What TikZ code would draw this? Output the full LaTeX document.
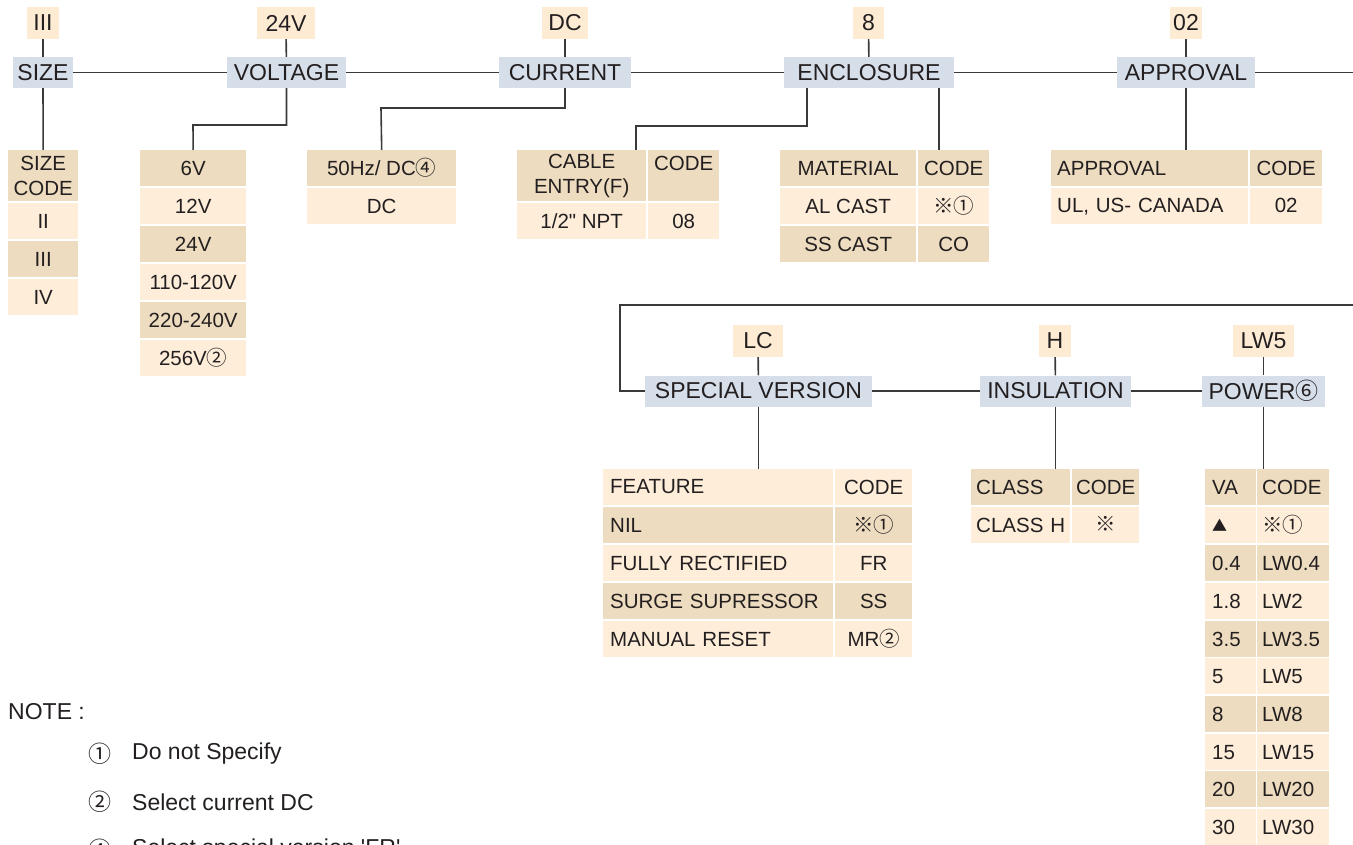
\documentclass[tikz,border=0pt]{standalone}
\usepackage{fontspec}
\setmainfont{Liberation Sans}
\newfontfamily\nolig{Liberation Sans}
\newfontfamily\cjk{Noto Sans CJK SC}
\definecolor{hdr}{HTML}{D6DEEA}
\definecolor{val}{HTML}{FDEBD4}
\definecolor{cdk}{HTML}{EDDCBF}
\definecolor{clt}{HTML}{FDEDD9}
\definecolor{ln}{HTML}{3A3A3A}
\definecolor{txt}{HTML}{231F20}
\newcommand\sy[1]{{\cjk #1}}
\newcommand\hf{\fontsize{23}{27}\selectfont}
\newcommand\tf{\fontsize{20.5}{25}\selectfont}
\newcommand\nf{\fontsize{23}{27}\selectfont}
\newcommand\cc[7]{\node[cell,#6,minimum width=#4pt,minimum height=#5pt] (#1) at (#2,#3) {#7};}
\newcommand\cl[8]{\pgfmathsetmacro\tw{#4-2*#8}\node[cell,#6,minimum width=#4pt,minimum height=#5pt,inner xsep=#8pt,text width=\tw pt,align=left] (#1) at (#2,#3) {#7};}
\begin{document}
\begin{tikzpicture}[x=1pt,y=-1pt,
  hdrbox/.style={fill=hdr,inner sep=0,minimum height=31pt,font=\hf,text=txt},
  valbox/.style={fill=val,inner sep=0,minimum height=32pt,font=\hf,text=txt},
  cell/.style={inner sep=0,anchor=north west,font=\tf,text=txt,align=center},
  dk/.style={fill=cdk},
  lt/.style={fill=clt},
  conn/.style={draw=ln,line width=1.6pt},
  notetext/.style={anchor=west,font=\nf,text=txt,inner sep=0}]
\useasboundingbox (0,0) rectangle (1353,845);
\clip (0,0) rectangle (1353,845);
\fill[white] (0,0) rectangle (1353,845);

% ---------- top row: selected values and headers
\node[valbox,minimum width=32pt] (vsize) at (43,23) {III};
\node[valbox,minimum width=58pt] (vvolt) at (286,23) {24V};
\node[valbox,minimum width=46pt] (vcur) at (565,23) {DC};
\node[valbox,minimum width=31pt] (venc) at (868.5,23) {8};
\node[valbox,minimum width=32pt] (vapp) at (1186,23) {02};

\node[hdrbox,minimum width=60pt] (hsize) at (43,72.5) {SIZE};
\node[hdrbox,minimum width=119pt] (hvolt) at (286.5,72.5) {VOLTAGE};
\node[hdrbox,minimum width=132pt] (hcur) at (565,72.5) {CURRENT};
\node[hdrbox,minimum width=170pt] (henc) at (869,72.5) {ENCLOSURE};
\node[hdrbox,minimum width=138pt] (happ) at (1186,72.5) {APPROVAL};

% ---------- second row
\node[valbox,minimum width=50pt] (vsv) at (758,341) {LC};
\node[valbox,minimum width=32pt] (vins) at (1055,341) {H};
\node[valbox,minimum width=61pt] (vpow) at (1263.5,341) {LW5};

\node[hdrbox,minimum width=227pt] (hsv) at (758.5,391) {SPECIAL VERSION};
\node[hdrbox,minimum width=151pt] (hins) at (1055.5,391) {INSULATION};
\node[hdrbox,minimum width=123pt] (hpow) at (1263.5,391) {POWER\sy{⑥}};

% ---------- SIZE table
\cc{s0}{8}{150}{70}{51}{dk}{SIZE\\CODE}
\cc{s1}{8}{203}{70}{36}{lt}{II}
\cc{s2}{8}{241}{70}{36}{dk}{III}
\cc{s3}{8}{279}{70}{36}{lt}{IV}

% ---------- VOLTAGE table
\cc{t0}{140}{150}{106}{36}{dk}{6V}
\cc{t1}{140}{188}{106}{36}{lt}{12V}
\cc{t2}{140}{226}{106}{36}{dk}{24V}
\cc{t3}{140}{264}{106}{36}{lt}{110-120V}
\cc{t4}{140}{302}{106}{36}{dk}{220-240V}
\cc{t5}{140}{340}{106}{36}{lt}{256V\sy{②}}

% ---------- CURRENT table
\cc{c0}{307}{150}{149}{36}{dk}{50Hz/ DC\sy{④}}
\cc{c1}{307}{188}{149}{36}{lt}{DC}

% ---------- CABLE ENTRY table
\cc{e0a}{517}{150}{129}{51}{dk}{CABLE\\ENTRY(F)}
\cc{e0b}{648}{150}{71}{51}{dk}{CODE\\\phantom{X}}
\cc{e1a}{517}{203}{129}{36}{lt}{1/2{\nolig "} NPT}
\cc{e1b}{648}{203}{71}{36}{lt}{08}

% ---------- MATERIAL table
\cc{m0a}{780}{150}{136}{36}{dk}{MATERIAL}
\cc{m0b}{918}{150}{71}{36}{dk}{CODE}
\cc{m1a}{780}{188}{136}{36}{lt}{AL CAST}
\cc{m1b}{918}{188}{71}{36}{lt}{\sy{※①}}
\cc{m2a}{780}{226}{136}{36}{dk}{SS CAST}
\cc{m2b}{918}{226}{71}{36}{dk}{\raisebox{-3pt}{CO}}

% ---------- APPROVAL table
\cl{a0a}{1051}{150}{197}{36}{dk}{APPROVAL}{6}
\cc{a0b}{1250}{150}{72}{36}{dk}{CODE}
\cl{a1a}{1051}{188}{197}{36}{lt}{UL, US- CANADA}{6}
\cc{a1b}{1250}{188}{72}{36}{lt}{\raisebox{2pt}{02}}

% ---------- FEATURE table
\cl{f0a}{603}{469}{230}{36}{lt}{\raisebox{2pt}{FEATURE}}{7}
\cc{f0b}{835}{469}{77}{36}{lt}{CODE}
\cl{f1a}{603}{507}{230}{36}{dk}{NIL}{7}
\cc{f1b}{835}{507}{77}{36}{dk}{\sy{※①}}
\cl{f2a}{603}{545}{230}{36}{lt}{FULLY RECTIFIED}{7}
\cc{f2b}{835}{545}{77}{36}{lt}{FR}
\cl{f3a}{603}{583}{230}{36}{dk}{SURGE SUPRESSOR}{7}
\cc{f3b}{835}{583}{77}{36}{dk}{SS}
\cl{f4a}{603}{621}{230}{36}{lt}{MANUAL RESET}{7}
\cc{f4b}{835}{621}{77}{36}{lt}{MR\sy{②}}

% ---------- CLASS table
\cl{k0a}{971}{469}{99}{36}{dk}{CLASS}{5}
\cc{k0b}{1072}{469}{67}{36}{dk}{CODE}
\cl{k1a}{971}{507}{99}{36}{lt}{CLASS H}{5}
\cc{k1b}{1072}{507}{67}{36}{lt}{\raisebox{2pt}{\sy{※}}}

% ---------- VA table
\cl{p0a}{1205}{469}{51}{36}{dk}{VA}{7}
\cl{p0b}{1257}{469}{72}{36}{dk}{CODE}{5}
\cl{p1a}{1205}{507}{51}{36}{lt}{\sy{\fontsize{15}{18}\selectfont ▲}}{7}
\cl{p1b}{1257}{507}{72}{36}{lt}{\sy{※①}}{5}
\cl{p2a}{1205}{545}{51}{36}{dk}{0.4}{7}
\cl{p2b}{1257}{545}{72}{36}{dk}{LW0.4}{5}
\cl{p3a}{1205}{583}{51}{36}{lt}{1.8}{7}
\cl{p3b}{1257}{583}{72}{36}{lt}{LW2}{5}
\cl{p4a}{1205}{621}{51}{36}{dk}{3.5}{7}
\cl{p4b}{1257}{621}{72}{36}{dk}{LW3.5}{5}
\cl{p5a}{1205}{658}{51}{36}{lt}{5}{7}
\cl{p5b}{1257}{658}{72}{36}{lt}{LW5}{5}
\cl{p6a}{1205}{696}{51}{36}{dk}{8}{7}
\cl{p6b}{1257}{696}{72}{36}{dk}{LW8}{5}
\cl{p7a}{1205}{734}{51}{36}{lt}{15}{7}
\cl{p7b}{1257}{734}{72}{36}{lt}{LW15}{5}
\cl{p8a}{1205}{771}{51}{36}{dk}{20}{7}
\cl{p8b}{1257}{771}{72}{36}{dk}{LW20}{5}
\cl{p9a}{1205}{809}{51}{36}{lt}{30}{7}
\cl{p9b}{1257}{809}{72}{36}{lt}{LW30}{5}

% ---------- connectors
\coordinate (vk) at (193,125);
\coordinate (ck) at (381,108);
\coordinate (e1) at (807,88);
\coordinate (e2) at (636,126);
\coordinate (e3) at (636,150);
\coordinate (e4) at (939,88);
\coordinate (e5) at (939,150);
\coordinate (r1) at (1365,72.5);
\coordinate (r2) at (1365,305);
\coordinate (r3) at (620,305);

\draw[conn] (vsize) -- (hsize);
\draw[conn] (vvolt) -- (hvolt);
\draw[conn] (vcur) -- (hcur);
\draw[conn] (venc) -- (henc);
\draw[conn] (vapp) -- (happ);
\draw[conn] (vsv) -- (hsv);
\draw[conn] (vins) -- (hins);
\draw[conn] (vpow) -- (hpow);

\draw[conn] (hsize) -- (hvolt);
\draw[conn] (hvolt) -- (hcur);
\draw[conn] (hcur) -- (henc);
\draw[conn] (henc) -- (happ);
\draw[conn] (happ.east) -- (r1) -- (r2) -- (r3) |- (hsv.west);
\draw[conn] (hsv) -- (hins);
\draw[conn] (hins) -- (hpow);

\draw[conn] (hsize.south) -- (s0.north);
\draw[conn] (hvolt.south) |- (vk) -- (t0.north);
\draw[conn] (hcur.south) |- (ck) -- (c0.north);
\draw[conn] (e1) |- (e2) -- (e3);
\draw[conn] (e4) -- (e5);
\draw[conn] (happ.south) -- (happ.south |- a0a.north);
\draw[conn] (hsv.south) -- (hsv.south |- f0a.north);
\draw[conn] (hins.south) -- (hins.south |- k0a.north);
\draw[conn] (hpow.south) -- (hpow.south |- p0a.north);

% ---------- notes
\node[notetext] (note) at (8,712) {NOTE :};
\node[notetext] (n1c) at (88,754) {\sy{①}};
\node[notetext] (n1) at (132,754) {Do not Specify};
\node[notetext] (n2c) at (88,802) {\sy{②}};
\node[notetext] (n2) at (132,802) {Select current DC};
\node[notetext] (n4c) at (88,850) {\sy{④}};
\node[notetext] (n4) at (132,850) {Select special version \textquotesingle FR\textquotesingle};
\end{tikzpicture}
\end{document}
